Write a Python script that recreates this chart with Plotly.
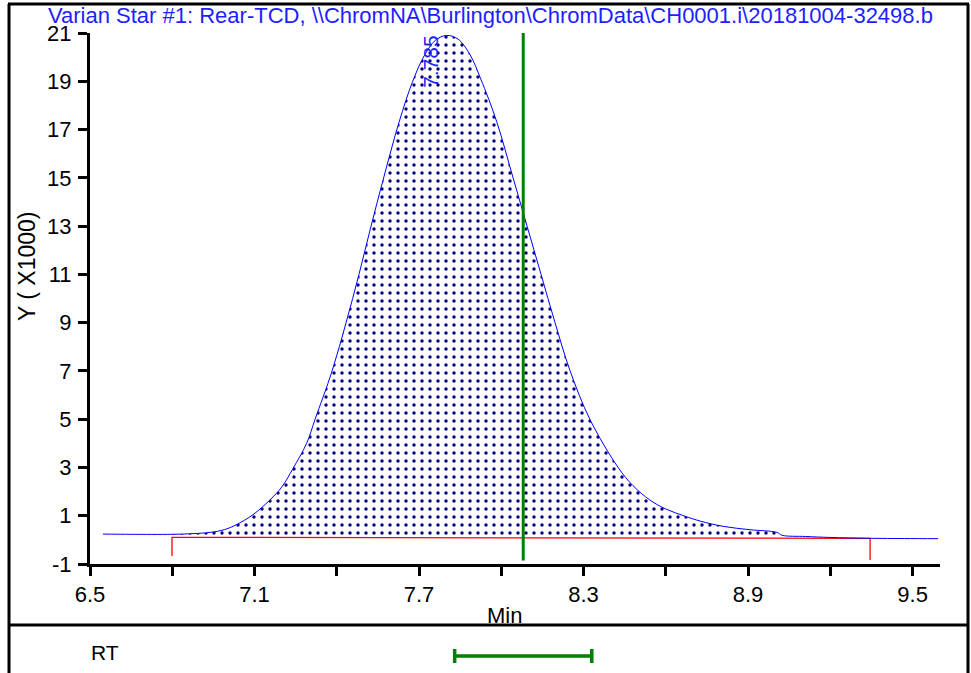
import plotly.graph_objects as go

# ---------------- data ----------------
title_text = r"Varian Star #1: Rear-TCD, \\ChromNA\Burlington\ChromData\CH0001.i\20181004-32498.b"

# chromatogram trace (minutes, Y x1000)
trace_x = [6.547, 6.650, 6.799, 6.880, 6.938, 6.990, 7.036, 7.094, 7.156, 7.200, 7.240,
           7.290, 7.321, 7.383, 7.434, 7.481, 7.525, 7.571, 7.627, 7.677, 7.721, 7.760,
           7.800, 7.842, 7.886, 7.925, 7.984, 8.043, 8.094, 8.145, 8.196, 8.251, 8.323,
           8.426, 8.480, 8.542, 8.600, 8.670, 8.725, 8.809, 8.907, 9.005, 9.024, 9.110,
           9.199, 9.345, 9.470, 9.593]
trace_y = [0.24, 0.23, 0.23, 0.26, 0.31, 0.42, 0.64, 1.04, 1.65, 2.20, 2.95,
           4.00, 5.00, 7.00, 9.00, 11.00, 13.00, 15.00, 17.30, 19.00, 20.10, 20.70,
           20.90, 20.75, 20.10, 19.10, 17.30, 15.00, 13.00, 11.00, 9.00, 7.00, 5.00,
           3.00, 2.25, 1.65, 1.28, 0.98, 0.78, 0.56, 0.42, 0.31, 0.19, 0.14,
           0.10, 0.065, 0.055, 0.05]

peak_rt = 7.785
peak_label = "7.785"
peak_start, peak_end = 6.799, 9.345
base_start_y, base_end_y = 0.106, 0.065
drop_start_y, drop_end_y = -0.67, -0.83

rt_center = 8.08
rt_halfwidth = 0.25
rt_label = "RT"

x_tickvals = [6.5, 6.8, 7.1, 7.4, 7.7, 8.0, 8.3, 8.6, 8.9, 9.2, 9.5]
x_ticktext = ["6.5", "", "7.1", "", "7.7", "", "8.3", "", "8.9", "", "9.5"]
y_tickvals = [-1, 1, 3, 5, 7, 9, 11, 13, 15, 17, 19, 21]
y_ticktext = [str(v) for v in y_tickvals]

# ---------------- figure ----------------
FONT = "Liberation Sans, Arial, sans-serif"
BLUE = "#0000FF"
TBLUE = "#1E1EFF"
NAVY = "#000080"
GREEN = "#008000"
RED = "#FF0000"

fig = go.Figure()

in_peak = [(x, y) for x, y in zip(trace_x, trace_y) if peak_start <= x <= peak_end]
px_ = [p[0] for p in in_peak]
py_ = [p[1] for p in in_peak]

# baseline (fill reference)
fig.add_trace(go.Scatter(x=[peak_start, peak_end], y=[base_start_y, base_end_y],
                         mode="lines", line=dict(width=0, color=RED),
                         hoverinfo="skip", showlegend=False))
# dotted fill
fig.add_trace(go.Scatter(x=px_, y=py_, mode="lines", line=dict(width=0, shape="spline"),
                         fill="tonexty", fillcolor="rgba(255,255,255,0)",
                         fillpattern=dict(shape=".", fgcolor=NAVY, bgcolor="rgba(255,255,255,0)",
                                          size=8, solidity=0.14, fgopacity=1),
                         hoverinfo="skip", showlegend=False))
# red baseline with drop lines
fig.add_trace(go.Scatter(x=[peak_start, peak_start, peak_end, peak_end],
                         y=[drop_start_y, base_start_y, base_end_y, drop_end_y],
                         mode="lines", line=dict(width=1.3, color=RED),
                         hoverinfo="skip", showlegend=False))
# blue chromatogram
fig.add_trace(go.Scatter(x=trace_x, y=trace_y, mode="lines",
                         line=dict(width=1, color=BLUE, shape="spline", smoothing=1),
                         showlegend=False))
# green RT marker line
fig.add_trace(go.Scatter(x=[rt_center, rt_center], y=[21, -0.85], mode="lines",
                         line=dict(width=3, color=GREEN), showlegend=False))
# RT window bar in lower panel
fig.add_trace(go.Scatter(x=[rt_center], y=[0], yaxis="y2", mode="markers",
                         marker=dict(size=1, opacity=0),
                         error_x=dict(type="data", array=[rt_halfwidth], color=GREEN,
                                      thickness=3.5, width=7),
                         showlegend=False))

W, H = 971, 673
L, R, T, B = 90, 31, 33, 0
pw, ph = W - L - R, H - T - B


def pxx(p):
    return (p - L) / pw


def pxy(p):
    return (H - B - p) / ph


main_bottom = pxy(564)
sep = pxy(625)

fig.update_layout(
    template="none",
    width=W, height=H,
    margin=dict(l=L, r=R, t=T, b=B, pad=0, autoexpand=False),
    paper_bgcolor="white", plot_bgcolor="white",
    font=dict(family=FONT, size=22, color="black"),
    showlegend=False,
    xaxis=dict(range=[6.5, 9.6], tickvals=x_tickvals, ticktext=x_ticktext,
               showline=True, linecolor="black", linewidth=3,
               ticks="outside", ticklen=9, tickwidth=2.5, tickcolor="black",
               showgrid=False, zeroline=False, anchor="y", automargin=False,
               tickfont=dict(size=22, family=FONT)),
    yaxis=dict(range=[-1, 21], domain=[main_bottom, 1], tickvals=y_tickvals,
               ticktext=y_ticktext, showline=True, linecolor="black", linewidth=3,
               ticks="outside", ticklen=9, tickwidth=2.5, tickcolor="black",
               showgrid=False, zeroline=False, anchor="x", automargin=False,
               ticklabelstandoff=2,
               tickfont=dict(size=22, family=FONT)),
    yaxis2=dict(domain=[0, sep], range=[-0.55, 1], anchor="x", showticklabels=False,
                showgrid=False, zeroline=False, showline=False, ticks="",
                automargin=False),
)

annos = [
    dict(text=title_text, x=pxx(490), y=pxy(16), xref="paper", yref="paper",
         showarrow=False, xanchor="center", yanchor="middle",
         font=dict(size=22, color=TBLUE, family=FONT)),
    dict(text="Y ( X1000)", x=pxx(27), y=pxy(266), xref="paper", yref="paper",
         showarrow=False, textangle=-90, xanchor="center", yanchor="middle",
         font=dict(size=23, family=FONT)),
    dict(text="Min", x=pxx(504), y=pxy(615), xref="paper", yref="paper",
         showarrow=False, xanchor="center", yanchor="middle",
         font=dict(size=22, family=FONT)),
    dict(text=rt_label, x=pxx(105), y=pxy(652), xref="paper", yref="paper",
         showarrow=False, xanchor="center", yanchor="middle",
         font=dict(size=21, family=FONT)),
    dict(text=peak_label, x=peak_rt, y=21, xref="x", yref="y",
         showarrow=False, textangle=-90, xanchor="center", yanchor="top",
         xshift=-12, font=dict(size=21, color=TBLUE, family=FONT)),
]
fig.update_layout(annotations=annos)

# outer frame and separator
frame = dict(type="line", xref="paper", yref="paper", line=dict(color="black", width=3))
fig.add_shape(**frame, x0=pxx(9), x1=pxx(9), y0=pxy(4), y1=pxy(680))
fig.add_shape(**frame, x0=pxx(968), x1=pxx(968), y0=pxy(4), y1=pxy(680))
fig.add_shape(**frame, x0=pxx(8), x1=pxx(969), y0=pxy(4), y1=pxy(4))
fig.add_shape(**frame, x0=pxx(8), x1=pxx(969), y0=sep, y1=sep)

fig.write_html("out.html")
